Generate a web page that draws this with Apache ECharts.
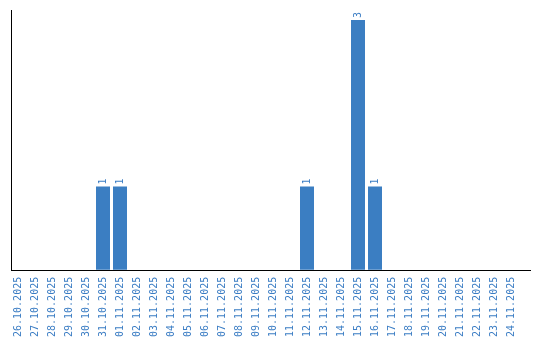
<!DOCTYPE html>
<html><head><meta charset="utf-8">
<script src="https://cdn.jsdelivr.net/npm/echarts@6/dist/echarts.min.js"></script>
<style>html,body{margin:0;padding:0;background:#fff}#c{width:540px;height:340px}</style>
</head><body><div id="c"></div>
<script>
const categories = ['26.10.2025','27.10.2025','28.10.2025','29.10.2025','30.10.2025','31.10.2025','01.11.2025','02.11.2025','03.11.2025','04.11.2025','05.11.2025','06.11.2025','07.11.2025','08.11.2025','09.11.2025','10.11.2025','11.11.2025','12.11.2025','13.11.2025','14.11.2025','15.11.2025','16.11.2025','17.11.2025','18.11.2025','19.11.2025','20.11.2025','21.11.2025','22.11.2025','23.11.2025','24.11.2025'];
const values = [0,0,0,0,0,1,1,0,0,0,0,0,0,0,0,0,0,1,0,0,3,1,0,0,0,0,0,0,0,0];

const chart = echarts.init(document.getElementById('c'));
chart.setOption({
  animation: false,
  grid: {left: 9.5, width: 510, top: 10, bottom: 70},
  xAxis: {
    type: 'category', data: categories,
    axisLine: {show: false}, axisTick: {show: false},
    axisLabel: {rotate: 90, interval: 0, margin: 7, color: '#3b7dc4', fontFamily: 'DejaVu Sans Mono', fontSize: 10}
  },
  yAxis: {type: 'value', min: 0, max: 3.12, show: false, splitLine: {show: false}},
  series: [{
    type: 'bar', data: values.map(v => v === 0 ? null : v), barWidth: 14,
    itemStyle: {color: '#3b7ec2'},
    label: {show: true, position: 'top', rotate: 90, align: 'left', verticalAlign: 'middle', distance: 2,
      color: '#3b7dc4', fontFamily: 'DejaVu Sans Mono', fontSize: 10}
  }],
  graphic: [
    {type: 'line', shape: {x1: 11.5, y1: 10, x2: 11.5, y2: 271}, style: {stroke: '#000', lineWidth: 1}},
    {type: 'line', shape: {x1: 11, y1: 270.5, x2: 531, y2: 270.5}, style: {stroke: '#000', lineWidth: 1}}
  ]
});
</script></body></html>
